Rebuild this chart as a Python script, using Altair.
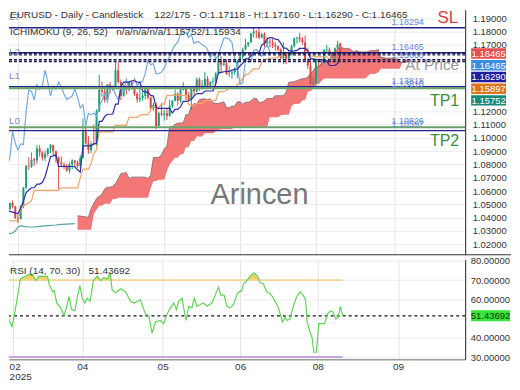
import altair as alt
import pandas as pd

# ---------------- data ----------------
opens = [1.0460, 1.0465, 1.0510, 1.0485, 1.0400, 1.0390, 1.0485, 1.0625, 1.0790, 1.0785,
         1.0840, 1.0830, 1.0920, 1.0890, 1.0850, 1.0880, 1.0920, 1.0945, 1.0900, 1.0855,
         1.0815, 1.0800, 1.0790, 1.0755, 1.0800, 1.0830, 1.0815, 1.0790, 1.0850, 1.1050,
         1.0960, 1.0910, 1.0960, 1.0950, 1.1200, 1.1360, 1.1350, 1.1285, 1.1400, 1.1365,
         1.1390, 1.1510, 1.1420, 1.1315, 1.1390, 1.1365, 1.1420, 1.1385, 1.1330, 1.1290,
         1.1300, 1.1315, 1.1370, 1.1305, 1.1225, 1.1250, 1.1090, 1.1185, 1.1175, 1.1185,
         1.1165, 1.1240, 1.1280, 1.1330, 1.1280, 1.1365, 1.1385, 1.1325, 1.1290, 1.1370,
         1.1350, 1.1440, 1.1370, 1.1385, 1.1445, 1.1395, 1.1420, 1.1425, 1.1485, 1.1585,
         1.1550, 1.1560, 1.1480, 1.1485, 1.1495, 1.1525, 1.1580, 1.1610, 1.1665, 1.1700,
         1.1720, 1.1785, 1.1800, 1.1795, 1.1755, 1.1780, 1.1710, 1.1725, 1.1720, 1.1700,
         1.1690, 1.1665, 1.1600, 1.1640, 1.1595, 1.1625, 1.1690, 1.1750, 1.1755, 1.1740,
         1.1720, 1.1590, 1.1545, 1.1405, 1.1415, 1.1585, 1.1570, 1.1575, 1.1660, 1.1665,
         1.1640, 1.1615, 1.1675, 1.17118]
highs = [1.0528, 1.0515, 1.0530, 1.0490, 1.0420, 1.0495, 1.0630, 1.0795, 1.0855, 1.0890,
         1.0850, 1.0945, 1.0945, 1.0900, 1.0905, 1.0925, 1.0955, 1.0950, 1.0905, 1.0860,
         1.0860, 1.0815, 1.0805, 1.0815, 1.0840, 1.0835, 1.0830, 1.0870, 1.1145, 1.1105,
         1.1015, 1.0975, 1.1100, 1.1215, 1.1475, 1.1425, 1.1375, 1.1405, 1.1420, 1.1395,
         1.1575, 1.1570, 1.1440, 1.1400, 1.1395, 1.1425, 1.1425, 1.1390, 1.1345, 1.1375,
         1.1345, 1.1380, 1.1380, 1.1310, 1.1265, 1.1265, 1.1195, 1.1265, 1.1210, 1.1225,
         1.1285, 1.1285, 1.1365, 1.1345, 1.1375, 1.1420, 1.1390, 1.1345, 1.1385, 1.1385,
         1.1455, 1.1455, 1.1435, 1.1495, 1.1465, 1.1425, 1.1455, 1.1495, 1.1630, 1.1615,
         1.1595, 1.1590, 1.1540, 1.1505, 1.1530, 1.1585, 1.1640, 1.1680, 1.1745, 1.1720,
         1.1790, 1.1830, 1.1810, 1.1830, 1.1790, 1.1795, 1.1760, 1.1745, 1.1750, 1.1720,
         1.1695, 1.1675, 1.1720, 1.1645, 1.1660, 1.1700, 1.1755, 1.1760, 1.1790, 1.1760,
         1.1770, 1.1600, 1.1575, 1.1460, 1.1595, 1.1595, 1.1595, 1.1670, 1.1700, 1.1680,
         1.1650, 1.1680, 1.1730, 1.17160]
lows = [1.0447, 1.0455, 1.0470, 1.0390, 1.0360, 1.0385, 1.0470, 1.0615, 1.0760, 1.0775,
        1.0790, 1.0805, 1.0860, 1.0830, 1.0825, 1.0860, 1.0885, 1.0870, 1.0815, 1.0615,
        1.0780, 1.0765, 1.0745, 1.0735, 1.0765, 1.0780, 1.0775, 1.0775, 1.0845, 1.0950,
        1.0880, 1.0885, 1.0950, 1.0935, 1.1195, 1.1310, 1.1265, 1.1265, 1.1335, 1.1355,
        1.1385, 1.1410, 1.1285, 1.1310, 1.1325, 1.1350, 1.1365, 1.1315, 1.1265, 1.1270,
        1.1280, 1.1290, 1.1290, 1.1215, 1.1205, 1.1065, 1.1090, 1.1165, 1.1130, 1.1135,
        1.1160, 1.1225, 1.1275, 1.1245, 1.1265, 1.1355, 1.1285, 1.1280, 1.1210, 1.1315,
        1.1345, 1.1355, 1.1365, 1.1380, 1.1370, 1.1390, 1.1400, 1.1405, 1.1480, 1.1490,
        1.1540, 1.1475, 1.1460, 1.1445, 1.1475, 1.1450, 1.1570, 1.1590, 1.1660, 1.1685,
        1.1715, 1.1755, 1.1750, 1.1745, 1.1750, 1.1685, 1.1680, 1.1680, 1.1675, 1.1655,
        1.1650, 1.1595, 1.1555, 1.1555, 1.1590, 1.1620, 1.1680, 1.1710, 1.1720, 1.1700,
        1.1585, 1.1520, 1.1400, 1.1400, 1.1390, 1.1530, 1.1545, 1.1560, 1.1635, 1.1620,
        1.1590, 1.1590, 1.1665, 1.16290]
closes = [1.0465, 1.0510, 1.0485, 1.0400, 1.0375, 1.0485, 1.0625, 1.0790, 1.0785, 1.0835,
          1.0830, 1.0920, 1.0890, 1.0850, 1.0880, 1.0920, 1.0945, 1.0900, 1.0855, 1.0815,
          1.0800, 1.0790, 1.0755, 1.0800, 1.0830, 1.0815, 1.0790, 1.0850, 1.1050, 1.0960,
          1.0910, 1.0955, 1.0950, 1.1200, 1.1360, 1.1350, 1.1285, 1.1400, 1.1365, 1.1390,
          1.1510, 1.1420, 1.1315, 1.1390, 1.1365, 1.1420, 1.1385, 1.1330, 1.1290, 1.1300,
          1.1315, 1.1370, 1.1305, 1.1225, 1.1250, 1.1090, 1.1185, 1.1175, 1.1185, 1.1165,
          1.1240, 1.1280, 1.1330, 1.1280, 1.1365, 1.1385, 1.1325, 1.1290, 1.1370, 1.1350,
          1.1440, 1.1370, 1.1385, 1.1445, 1.1395, 1.1420, 1.1425, 1.1485, 1.1585, 1.1550,
          1.1560, 1.1480, 1.1485, 1.1495, 1.1525, 1.1580, 1.1610, 1.1665, 1.1700, 1.1720,
          1.1785, 1.1800, 1.1795, 1.1755, 1.1780, 1.1710, 1.1725, 1.1720, 1.1700, 1.1690,
          1.1665, 1.1600, 1.1640, 1.1595, 1.1625, 1.1690, 1.1750, 1.1755, 1.1740, 1.1720,
          1.1590, 1.1545, 1.1405, 1.1415, 1.1585, 1.1570, 1.1575, 1.1660, 1.1665, 1.1640,
          1.1615, 1.1675, 1.1705, 1.16465]

tenkan = [1.0451, 1.0447, 1.0442, 1.0436, 1.0429, 1.0470, 1.0526, 1.0588, 1.0608, 1.0625,
          1.0625, 1.0653, 1.0653, 1.0665, 1.0708, 1.0780, 1.0858, 1.0865, 1.0873, 1.0785,
          1.0785, 1.0785, 1.0785, 1.0785, 1.0785, 1.0783, 1.0760, 1.0743, 1.0940, 1.0940,
          1.0940, 1.0940, 1.0955, 1.0960, 1.1125, 1.1125, 1.1160, 1.1178, 1.1178, 1.1180,
          1.1255, 1.1255, 1.1385, 1.1420, 1.1420, 1.1420, 1.1430, 1.1430, 1.1420, 1.1418,
          1.1353, 1.1345, 1.1345, 1.1320, 1.1315, 1.1228, 1.1223, 1.1223, 1.1223, 1.1223,
          1.1223, 1.1188, 1.1215, 1.1215, 1.1233, 1.1275, 1.1275, 1.1278, 1.1290, 1.1315,
          1.1333, 1.1333, 1.1333, 1.1353, 1.1353, 1.1353, 1.1353, 1.1405, 1.1488, 1.1493,
          1.1498, 1.1500, 1.1500, 1.1510, 1.1515, 1.1518, 1.1543, 1.1563, 1.1595, 1.1595,
          1.1618, 1.1638, 1.1640, 1.1640, 1.1700, 1.1710, 1.1745, 1.1755, 1.1753, 1.1743,
          1.1740, 1.1713, 1.1675, 1.1675, 1.1658, 1.1653, 1.1655, 1.1658, 1.1673, 1.1673,
          1.1673, 1.1655, 1.1595, 1.1595, 1.1590, 1.1590, 1.1590, 1.1580, 1.1580, 1.1545,
          1.1545, 1.1545, 1.1560, 1.1629]
kijun = [1.0376, 1.0376, 1.0376, 1.0376, 1.0376, 1.0466, 1.0490, 1.0500, 1.0513, 1.0526,
         1.0605, 1.0605, 1.0605, 1.0605, 1.0605, 1.0605, 1.0605, 1.0605, 1.0605, 1.0605,
         1.0624, 1.0624, 1.0624, 1.0624, 1.0624, 1.0624, 1.0624, 1.0699, 1.0766, 1.0766,
         1.0765, 1.0808, 1.0880, 1.0915, 1.1045, 1.1045, 1.1045, 1.1045, 1.1045, 1.1045,
         1.1095, 1.1095, 1.1095, 1.1095, 1.1095, 1.1155, 1.1155, 1.1155, 1.1155, 1.1170,
         1.1175, 1.1175, 1.1175, 1.1210, 1.1228, 1.1228, 1.1230, 1.1255, 1.1255, 1.1320,
         1.1320, 1.1320, 1.1320, 1.1320, 1.1320, 1.1320, 1.1318, 1.1253, 1.1245, 1.1245,
         1.1260, 1.1260, 1.1260, 1.1280, 1.1280, 1.1280, 1.1280, 1.1280, 1.1348, 1.1348,
         1.1348, 1.1360, 1.1380, 1.1380, 1.1383, 1.1395, 1.1425, 1.1445, 1.1478, 1.1478,
         1.1500, 1.1520, 1.1520, 1.1520, 1.1573, 1.1588, 1.1593, 1.1598, 1.1600, 1.1600,
         1.1610, 1.1615, 1.1618, 1.1638, 1.1638, 1.1638, 1.1638, 1.1638, 1.1638, 1.1640,
         1.1640, 1.1675, 1.1615, 1.1615, 1.1610, 1.1610, 1.1610, 1.1610, 1.1610, 1.1593,
         1.1593, 1.1590, 1.1590, 1.1590]
# senkou spans, drawn 26 bars ahead of the bar they belong to
span_shift = 26
span_a = [1.0414, 1.0412, 1.0409, 1.0406, 1.0403, 1.0468, 1.0508, 1.0544, 1.0561, 1.0576,
          1.0615, 1.0629, 1.0629, 1.0635, 1.0657, 1.0693, 1.0732, 1.0735, 1.0739, 1.0695,
          1.0705, 1.0705, 1.0705, 1.0705, 1.0705, 1.0704, 1.0692, 1.0721, 1.0853, 1.0853,
          1.0853, 1.0874, 1.0918, 1.0938, 1.1085, 1.1085, 1.1103, 1.1112, 1.1112, 1.1113,
          1.1175, 1.1175, 1.1240, 1.1258, 1.1258, 1.1288, 1.1293, 1.1293, 1.1288, 1.1294,
          1.1264, 1.1260, 1.1260, 1.1265, 1.1272, 1.1228, 1.1227, 1.1239, 1.1239, 1.1272,
          1.1272, 1.1254, 1.1268, 1.1268, 1.1277, 1.1298, 1.1297, 1.1266, 1.1268, 1.1280,
          1.1297, 1.1297, 1.1297, 1.1317, 1.1317, 1.1317, 1.1317, 1.1343, 1.1418, 1.1421,
          1.1423, 1.1430, 1.1440, 1.1445, 1.1449, 1.1457, 1.1484, 1.1504, 1.1537, 1.1537,
          1.1559, 1.1579, 1.1580, 1.1580, 1.1637, 1.1649, 1.1669, 1.1677, 1.1677, 1.1672,
          1.1675, 1.1664, 1.1647, 1.1657, 1.1648, 1.1646, 1.1647, 1.1648, 1.1656, 1.1657,
          1.1657, 1.1665, 1.1605, 1.1605, 1.1600, 1.1600, 1.1600, 1.1595, 1.1595, 1.1569,
          1.1569, 1.1568, 1.1575]
span_b = [1.0310, 1.0310, 1.0310, 1.0310, 1.0310, 1.0310, 1.0429, 1.0460, 1.0489, 1.0489,
          1.0504, 1.0504, 1.0504, 1.0541, 1.0541, 1.0549, 1.0549, 1.0549, 1.0549, 1.0549,
          1.0549, 1.0549, 1.0549, 1.0549, 1.0549, 1.0549, 1.0549, 1.0624, 1.0676, 1.0676,
          1.0685, 1.0685, 1.0685, 1.0751, 1.0800, 1.0826, 1.0850, 1.0850, 1.0878, 1.0878,
          1.0930, 1.0930, 1.0976, 1.0976, 1.1010, 1.1010, 1.1010, 1.1035, 1.1035, 1.1035,
          1.1035, 1.1050, 1.1060, 1.1065, 1.1065, 1.1065, 1.1065, 1.1065, 1.1085, 1.1085,
          1.1085, 1.1085, 1.1085, 1.1085, 1.1085, 1.1085, 1.1085, 1.1085, 1.1085, 1.1085,
          1.1085, 1.1155, 1.1155, 1.1155, 1.1155, 1.1170, 1.1175, 1.1175, 1.1175, 1.1238,
          1.1255, 1.1255, 1.1258, 1.1283, 1.1283, 1.1348, 1.1353, 1.1373, 1.1405, 1.1405,
          1.1428, 1.1448, 1.1448, 1.1448, 1.1448, 1.1448, 1.1448, 1.1448, 1.1448, 1.1448,
          1.1448, 1.1448, 1.1448, 1.1448, 1.1448, 1.1448, 1.1448, 1.1460, 1.1480, 1.1480,
          1.1483, 1.1495, 1.1520, 1.1520, 1.1520, 1.1520, 1.1520, 1.1520, 1.1520, 1.1520,
          1.1573, 1.1588, 1.1593]
teal_bars = [0, 1, 2, 3, 4, 5, 6, 8, 10, 12, 15, 18, 20, 22, 25]
teal_vals = [1.0290, 1.0280, 1.0285, 1.0300, 1.0330, 1.0340, 1.0335, 1.0330, 1.0330,
             1.0335, 1.0340, 1.0345, 1.0350, 1.0352, 1.0355]

rsi_bars = [0.6, 1.4, 2.6, 3.6, 4.4, 5.6, 6.6, 7.4, 8.6, 9.8,
            11.0, 12.2, 13.4, 14.6, 16.4, 17.0, 18.2, 18.8, 19.8, 21.2,
            22.4, 23.4, 24.2, 25.1, 26.3, 27.0, 28.1, 29.0, 29.9, 30.8,
            31.8, 33.0, 34.4, 35.6, 36.8, 38.0, 39.0, 39.8, 41.0, 42.8,
            44.6, 46.4, 47.6, 50.0, 51.8, 53.0, 54.2, 55.4, 57.2, 58.4,
            59.6, 60.8, 62.0, 63.0, 63.8, 65.0, 65.6, 66.5, 67.4, 68.6,
            69.4, 70.4, 71.6, 72.8, 74.0, 75.8, 77.0, 78.2, 79.0, 80.2,
            81.2, 82.4, 83.6, 85.0, 86.6, 87.2, 88.4, 89.6, 91.0, 92.2,
            93.2, 94.4, 95.6, 96.8, 98.0, 99.8, 101.3, 102.2, 103.0, 104.0,
            105.2, 106.4, 107.6, 108.8, 109.6, 110.2, 111.2, 112.0, 112.6, 113.5,
            114.4, 115.3, 116.5, 117.5, 118.7, 119.5, 120.5, 121.3, 122.2, 123.0]
rsi_vals = [59.8, 57.3, 49.0, 45.7, 51.5, 61.4, 70.5, 71.3, 72.1, 73.0,
            73.0, 69.7, 72.1, 72.0, 72.0, 68.0, 64.0, 64.7, 58.0, 55.6,
            51.5, 56.4, 61.4, 54.8, 54.0, 59.8, 67.2, 60.6, 58.1, 60.6,
            59.0, 69.7, 72.1, 69.7, 71.3, 70.5, 73.8, 64.7, 63.4, 65.5,
            64.0, 59.0, 58.1, 59.8, 52.3, 51.5, 42.4, 48.2, 49.0, 47.4,
            52.3, 55.6, 58.1, 54.8, 59.0, 60.6, 55.6, 49.0, 56.4, 55.6,
            60.6, 56.4, 57.3, 58.1, 56.4, 58.1, 62.2, 66.4, 62.2, 62.2,
            56.4, 55.6, 57.3, 63.1, 64.7, 68.0, 69.7, 72.1, 73.8, 72.1,
            68.8, 68.0, 63.9, 63.1, 60.6, 55.6, 48.2, 50.7, 49.0, 49.8,
            56.4, 61.4, 63.9, 62.2, 59.8, 48.2, 43.2, 39.9, 32.5, 32.5,
            47.4, 47.4, 47.4, 52.3, 54.0, 53.5, 49.8, 50.5, 56.4, 51.43692]
rsi_last = 51.43692
rsi_levels = [70, 30]

# horizontal levels
level_solid = [1.18294, 1.1641, 1.1385, 1.1055]
level_green = [1.1373, 1.1080]
level_dashed = [1.1637, 1.1625, 1.1588, 1.1575]

tick_bars = [4, 29, 58, 86, 114, 143]
tick_labels = ["02", "04", "05", "06", "08", "09"]
year_label = "2025"
price_ticks = [1.02, 1.03, 1.04, 1.05, 1.06, 1.07, 1.08, 1.09, 1.10, 1.11,
               1.12, 1.13, 1.14, 1.15, 1.16, 1.17, 1.18, 1.19]
hidden_price_labels = [1.13, 1.14, 1.15, 1.16]   # covered by the price tags
rsi_ticks = [30, 40, 50, 60, 70, 80]

header1 = "EURUSD - Daily - Candlestick\u00a0\u00a0\u00a0\u00a0122/175 - O:1.17118 - H:1.17160 - L:1.16290 - C:1.16465"
header2 = "ICHIMOKU (9, 26, 52)\u00a0\u00a0\u00a0n/a/n/a/n/a/1.15752/1.15934"
rsi_header = "RSI (14, 70, 30)\u00a0\u00a0\u00a0" + "51.43692"
tag_texts = ["1.16465", "1.16465", "1.16290", "1.15897", "1.15752"]
tag_colors = ["#e64f4f", "#3c8ee3", "#1d1d9c", "#e0741c", "#16897b"]

# ---------------- layout / style ----------------
FONT = "Liberation Sans"
UP, DOWN = "#1f9e7a", "#d94848"
W, HM, HR = 458, 246, 100
XD = [2.518, 167.27]
YD = [1.0121, 1.19644]
RD = [28.8, 80.6]

xs = alt.Scale(domain=XD, nice=False, zero=False)
ys = alt.Scale(domain=YD, nice=False, zero=False)
rs = alt.Scale(domain=RD, nice=False, zero=False)

hide_expr = " || ".join(f"abs(datum.value - {v}) < 0.001" for v in hidden_price_labels)
x_axis_main = alt.Axis(values=tick_bars, grid=True, gridColor="#e3e3e3", labels=False,
                       ticks=False, domain=False, title=None)
y_axis_main = alt.Axis(orient="right", values=price_ticks, format=".5f", grid=True,
                       gridColor="#ececec", domain=True, domainColor="#222", ticks=False,
                       labelPadding=7, labelFontSize=9.5, labelColor="#333", labelFont=FONT,
                       title=None, labelOverlap=False,
                       labelExpr=f"({hide_expr}) ? '' : format(datum.value, '.5f')")

expr = ""
for i, (b, l) in enumerate(zip(tick_bars, tick_labels)):
    lab = f"['{l}','{year_label}']" if i == 0 else f"'{l}'"
    expr += f"datum.value == {b} ? {lab} : "
expr += "''"

x_axis_rsi = alt.Axis(values=tick_bars, grid=True, gridColor="#e3e3e3", labelExpr=expr,
                      ticks=False, domain=True, domainColor="#666", labelPadding=2,
                      labelFontSize=10, labelFont=FONT, labelColor="#333", labelLineHeight=10,
                      labelFlush=10, labelFlushOffset=4, title=None)
y_axis_rsi = alt.Axis(orient="right", values=rsi_ticks, format=".5f", grid=True,
                      gridColor="#ececec", domain=True, domainColor="#222", ticks=False,
                      labelPadding=5, labelFontSize=9.5, labelColor="#333", labelFont=FONT,
                      title=None, labelOverlap=False,
                      labelExpr="datum.value == 50 ? '' : format(datum.value, '.5f')")


def MX(f):
    return alt.X(f, type="quantitative", scale=xs, axis=x_axis_main)


def MY(f):
    return alt.Y(f, type="quantitative", scale=ys, axis=y_axis_main)


def RX(f):
    return alt.X(f, type="quantitative", scale=xs, axis=x_axis_rsi)


def RY(f):
    return alt.Y(f, type="quantitative", scale=rs, axis=y_axis_rsi)


one = pd.DataFrame({"t": [""]})


def txt(t, x, y, size=10, color="#333", align="left", baseline="alphabetic", opacity=1.0):
    return alt.Chart(pd.DataFrame({"t": [t]})).mark_text(
        align=align, baseline=baseline, fontSize=size, font=FONT, color=color, opacity=opacity
    ).encode(x=alt.value(x), y=alt.value(y), text="t:N")


def tag(t, color, x0, x1, yc, h, tcolor="white", size=9.5):
    r = alt.Chart(one).mark_rect(color=color).encode(
        x=alt.value(x0), x2=alt.value(x1), y=alt.value(yc - h / 2), y2=alt.value(yc + h / 2))
    s = txt(t, (x0 + x1) / 2, yc + 0.5, size=size, color=tcolor, align="center", baseline="middle")
    return [r, s]


# ---------------- main panel ----------------
n = len(closes)
cdf = pd.DataFrame({"bar": list(range(n)), "open": opens, "high": highs, "low": lows, "close": closes})
cdf["dir"] = ["up" if c >= o else "down" for o, c in zip(opens, closes)]
ccol = alt.Color("dir:N", scale=alt.Scale(domain=["up", "down"], range=[UP, DOWN]), legend=None)

cloud = pd.DataFrame({"bar": [k + span_shift for k in range(len(span_a))], "a": span_a, "b": span_b})
tk = pd.DataFrame({"bar": list(range(len(tenkan))), "v": tenkan})
kj = pd.DataFrame({"bar": list(range(len(kijun))), "v": kijun})
ch = pd.DataFrame({"bar": [i - span_shift for i in range(span_shift, n)], "v": closes[span_shift:]})
tl = pd.DataFrame({"bar": teal_bars, "v": teal_vals})

layers = []
layers.append(alt.Chart(cloud).mark_area(clip=True, color="#f26d6d", opacity=0.93).encode(
    x=MX("bar"), y=MY("a"), y2="b"))
layers.append(alt.Chart(cloud).mark_line(clip=True, color="#8a7070", strokeWidth=0.9).encode(
    x=MX("bar"), y=MY("a")))
layers.append(alt.Chart(cdf).mark_rule(clip=True, strokeWidth=1).encode(
    x=MX("bar"), y=MY("low"), y2="high", color=ccol))
layers.append(alt.Chart(cdf).mark_bar(clip=True, size=2).encode(
    x=MX("bar"), y=MY("open"), y2="close", color=ccol))
layers.append(alt.Chart(kj).mark_line(clip=True, color="#f0a666", strokeWidth=1.2).encode(
    x=MX("bar"), y=MY("v")))
layers.append(alt.Chart(ch).mark_line(clip=True, color="#75aadd", strokeWidth=1.2).encode(
    x=MX("bar"), y=MY("v")))
layers.append(alt.Chart(tk).mark_line(clip=True, color="#2c2ca8", strokeWidth=1.2).encode(
    x=MX("bar"), y=MY("v")))
layers.append(alt.Chart(tl).mark_line(clip=True, color="#55a3a0", strokeWidth=1.2).encode(
    x=MX("bar"), y=MY("v")))
layers.append(alt.Chart(pd.DataFrame({"p": level_solid})).mark_rule(color="#23238a", strokeWidth=1.4).encode(
    y=MY("p")))
layers.append(alt.Chart(pd.DataFrame({"p": level_green})).mark_rule(color="#6aa36a", strokeWidth=2).encode(
    y=MY("p")))
layers.append(alt.Chart(pd.DataFrame({"p": level_dashed})).mark_rule(
    color="#1a1a50", strokeWidth=1.4, strokeDash=[3, 2]).encode(y=MY("p")))
# separator between panels
layers.append(alt.Chart(one).mark_rule(color="#333", strokeWidth=1).encode(
    x=alt.value(0), x2=alt.value(504), y=alt.value(HM)))

# texts
layers.append(txt("Arincen", 251.5, 195, size=29, color="#777777", align="center"))
layers.append(txt("L7", 0, 7, size=10, color="#7c8fca", baseline="middle"))
layers.append(txt("L2", 0, 42, size=10, color="#7c8fca", baseline="middle"))
layers.append(txt("L1", 0, 67, size=10, color="#7c8fca", baseline="middle"))
layers.append(txt("L0", 0, 112, size=10, color="#7c8fca", baseline="middle"))
layers.append(txt(header1, 1, 8.5, size=10, color="#333"))
layers.append(txt(header2, 1, 25, size=10, color="#333"))
for t, yy in [("1.18294", 12), ("1.16465", 37), ("1.15660", 45), ("1.13818", 72),
              ("1.13810", 74.5), ("1.10826", 111.5), ("1.10597", 114.5)]:
    layers.append(txt(t, 384, yy, size=9, color="#6b83d6", baseline="middle"))
layers.append(txt("SL", 451, 13.5, size=17, color="#d6403e", align="right"))
layers.append(txt("At Price", 452, 61, size=15.5, color="#9a9a9a", align="right"))
layers.append(txt("TP1", 452, 97, size=16, color="#3b8e3b", align="right"))
layers.append(txt("TP2", 452, 137, size=16, color="#3b8e3b", align="right"))
for k, (t, c) in enumerate(zip(tag_texts, tag_colors)):
    layers += tag(t, c, 464, 499, 44 + 11.75 * k, 10.5)

main = alt.layer(*layers).properties(width=W, height=HM)

# ---------------- RSI panel ----------------
rdf = pd.DataFrame({"bar": rsi_bars, "v": rsi_vals})
rl = []
rl.append(alt.Chart(rdf).transform_calculate(hi="max(datum.v, 70)", lo="70").mark_area(
    clip=True, color="#f2c94c", opacity=0.85).encode(x=RX("bar"), y=RY("hi"), y2="lo:Q"))
lv = pd.DataFrame({"y": rsi_levels, "x0": [rsi_bars[0], rsi_bars[0]], "x1": [rsi_bars[-1], rsi_bars[-1]],
                   "c": ["#f3d39a", "#c9a5de"]})
rl.append(alt.Chart(lv).mark_rule(clip=True, strokeWidth=2).encode(
    x=RX("x0"), x2="x1", y=RY("y"), color=alt.Color("c:N", scale=None)))
rl.append(alt.Chart(pd.DataFrame({"y": [rsi_last]})).mark_rule(
    color="#111", strokeWidth=1.2, strokeDash=[3, 3]).encode(y=RY("y")))
rl.append(alt.Chart(rdf).mark_line(clip=True, color="#62d35a", strokeWidth=1.2).encode(
    x=RX("bar"), y=RY("v")))
rl.append(txt(rsi_header, 1, 14, size=10, color="#333"))
tag_y = (RD[1] - rsi_last) / (RD[1] - RD[0]) * HR
rl += tag("51.43692", "#36e636", 464, 503, tag_y, 11, tcolor="#123312")

rsi = alt.layer(*rl).properties(width=W, height=HR)

chart = alt.vconcat(main, rsi, spacing=0).resolve_scale(
    x="independent", y="independent").properties(padding=0, background="white").configure_view(stroke=None)

chart.save("out.html", embed_options={"renderer": "svg", "actions": False})
